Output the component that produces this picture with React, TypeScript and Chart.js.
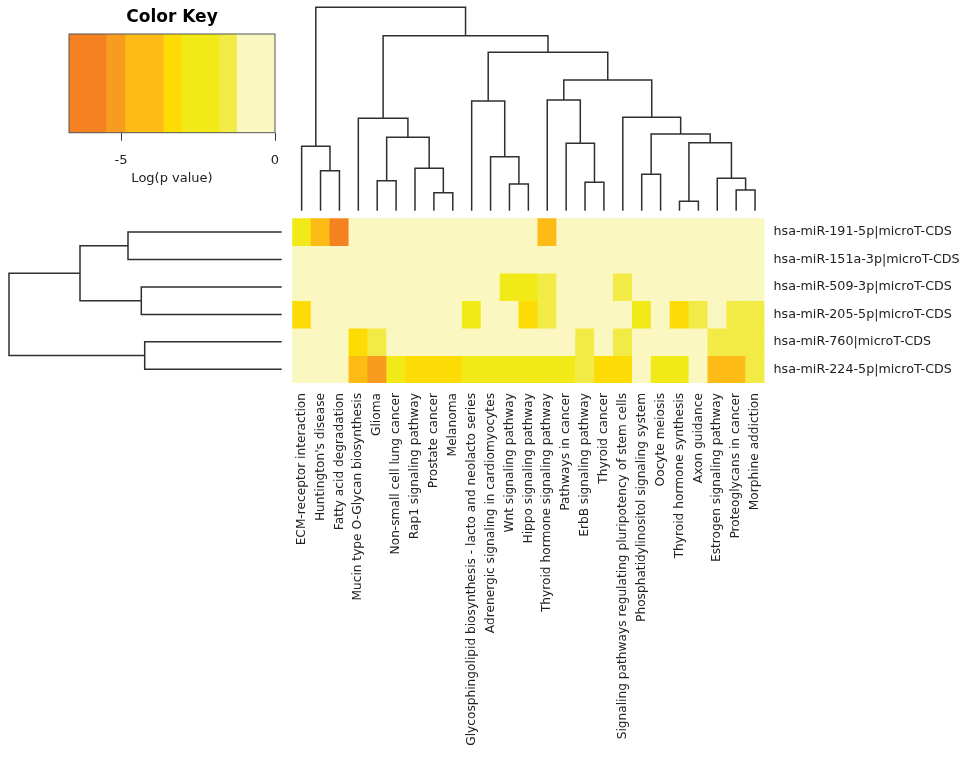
import React, { useEffect, useRef } from 'react';
import { Chart, registerables } from 'chart.js';

Chart.register(...registerables);
Chart.defaults.font.family = "'DejaVu Sans', sans-serif";

// ---------- data ----------
const colLabels = [
  'ECM-receptor interaction',
  "Huntington's disease",
  'Fatty acid degradation',
  'Mucin type O-Glycan biosynthesis',
  'Glioma',
  'Non-small cell lung cancer',
  'Rap1 signaling pathway',
  'Prostate cancer',
  'Melanoma',
  'Glycosphingolipid biosynthesis - lacto and neolacto series',
  'Adrenergic signaling in cardiomyocytes',
  'Wnt signaling pathway',
  'Hippo signaling pathway',
  'Thyroid hormone signaling pathway',
  'Pathways in cancer',
  'ErbB signaling pathway',
  'Thyroid cancer',
  'Signaling pathways regulating pluripotency of stem cells',
  'Phosphatidylinositol signaling system',
  'Oocyte meiosis',
  'Thyroid hormone synthesis',
  'Axon guidance',
  'Estrogen signaling pathway',
  'Proteoglycans in cancer',
  'Morphine addiction',
];

const rowLabels = [
  'hsa-miR-191-5p|microT-CDS',
  'hsa-miR-151a-3p|microT-CDS',
  'hsa-miR-509-3p|microT-CDS',
  'hsa-miR-205-5p|microT-CDS',
  'hsa-miR-760|microT-CDS',
  'hsa-miR-224-5p|microT-CDS',
];

// log(p value) per pathway, one array per miRNA
const miR191 = [-2.4, -4.2, -6.2, 0, 0, 0, 0, 0, 0, 0, 0, 0, 0, -4.2, 0, 0, 0, 0, 0, 0, 0, 0, 0, 0, 0];
const miR151a = [0, 0, 0, 0, 0, 0, 0, 0, 0, 0, 0, 0, 0, 0, 0, 0, 0, 0, 0, 0, 0, 0, 0, 0, 0];
const miR509 = [0, 0, 0, 0, 0, 0, 0, 0, 0, 0, 0, -2.4, -2.4, -1.5, 0, 0, 0, -1.5, 0, 0, 0, 0, 0, 0, 0];
const miR205 = [-3.3, 0, 0, 0, 0, 0, 0, 0, 0, -2.4, 0, 0, -3.3, -1.5, 0, 0, 0, 0, -2.4, 0, -3.3, -1.5, 0, -1.5, -1.5];
const miR760 = [0, 0, 0, -3.3, -1.5, 0, 0, 0, 0, 0, 0, 0, 0, 0, 0, -1.5, 0, -1.5, 0, 0, 0, 0, -1.5, -1.5, -1.5];
const miR224 = [0, 0, 0, -4.2, -5.2, -2.4, -3.3, -3.3, -3.3, -2.4, -2.4, -2.4, -2.4, -2.4, -2.4, -1.5, -3.3, -3.3, 0, -2.4, -2.4, 0, -4.2, -4.2, -1.5];

// colour key
const keyBreaks = [-6.69, -5.49, -4.87, -3.63, -3.05, -1.82, -1.25, 0];
const keyColors = ['#F58220', '#F89B1E', '#FDBB15', '#FDDC05', '#F2E918', '#F3EB45', '#FAF7C0'];
const keyTicks = [-5, 0];

// column dendrogram: [a, b, height]; negative = leaf (column n), positive = earlier merge n
const colMerges = [
  [-2, -3, 40.0],
  [-1, 1, 64.4],
  [-5, -6, 30.0],
  [-8, -9, 18.0],
  [-7, 4, 42.4],
  [3, 5, 73.4],
  [-4, 6, 92.4],
  [-12, -13, 26.7],
  [-11, 8, 54.0],
  [-10, 9, 109.7],
  [-16, -17, 28.4],
  [-15, 11, 67.4],
  [-14, 12, 110.7],
  [-19, -20, 36.4],
  [-21, -22, 9.4],
  [-24, -25, 20.7],
  [-23, 16, 32.4],
  [15, 17, 68.0],
  [14, 18, 76.7],
  [-18, 19, 93.4],
  [13, 20, 130.7],
  [10, 21, 158.4],
  [7, 22, 175.0],
  [2, 23, 203.4],
];
const colTreeMax = 203.4;

// row dendrogram
const rowMerges = [
  [-1, -2, 153.7],
  [-3, -4, 140.4],
  [1, 2, 201.7],
  [-5, -6, 137.0],
  [3, 4, 272.7],
];
const rowTreeMax = 272.7;

// ---------- helpers ----------
type Pt = { p: number; h: number };
function dendroSegments(merges: number[][]): Pt[][] {
  const pos: number[] = [];
  const hgt: number[] = [];
  const get = (id: number): Pt => (id < 0 ? { p: -id - 1, h: 0 } : { p: pos[id - 1], h: hgt[id - 1] });
  const segs: Pt[][] = [];
  merges.forEach(([a, b, h], i) => {
    const A = get(a);
    const B = get(b);
    pos[i] = (A.p + B.p) / 2;
    hgt[i] = h;
    segs.push([A, { p: A.p, h }, { p: B.p, h }, B]);
  });
  return segs;
}

function colorFor(v: number): string {
  for (let i = 0; i < keyColors.length; i++) {
    if (v >= keyBreaks[i] && v < keyBreaks[i + 1]) return keyColors[i];
  }
  return keyColors[keyColors.length - 1];
}

// layout (page pixels)
const W = 965;
const H = 757;
const HM = { left: 292.2, right: 764.5, top: 218.3, bottom: 383 };
const LINE = '#2f2f2f';

export default function App() {
  const keyRef = useRef<HTMLCanvasElement>(null);
  const topRef = useRef<HTMLCanvasElement>(null);
  const leftRef = useRef<HTMLCanvasElement>(null);
  const hmRef = useRef<HTMLCanvasElement>(null);

  useEffect(() => {
    const charts: Chart[] = [];

    // ----- colour key -----
    const frame = {
      id: 'frame',
      afterDatasetsDraw(chart: any) {
        const { ctx, chartArea: a } = chart;
        ctx.save();
        ctx.strokeStyle = '#555';
        ctx.lineWidth = 1;
        ctx.strokeRect(a.left, a.top, a.right - a.left, a.bottom - a.top);
        ctx.restore();
      },
    };
    charts.push(
      new Chart(keyRef.current!, {
        type: 'bar',
        data: {
          labels: ['key'],
          datasets: keyColors.map((c, i) => ({
            data: [[keyBreaks[i], keyBreaks[i + 1]]],
            backgroundColor: c,
            borderWidth: 0,
            grouped: false,
            barPercentage: 1,
            categoryPercentage: 1,
          })) as any,
        },
        options: {
          indexAxis: 'y',
          responsive: false,
          animation: false,
          events: [],
          layout: { padding: { left: 69, right: W - 275, top: 0, bottom: H - 132.7 - 57 } },
          plugins: {
            legend: { display: false },
            tooltip: { enabled: false },
            title: {
              display: true,
              text: 'Color Key',
              color: '#000',
              font: { size: 17, weight: 'bold' },
              padding: { top: 7.8, bottom: 5.8 },
            },
          },
          scales: {
            x: {
              type: 'linear',
              position: 'bottom',
              min: keyBreaks[0],
              max: 0,
              afterBuildTicks: (s: any) => {
                s.ticks = keyTicks.map((v) => ({ value: v }));
              },
              afterFit: (s: any) => {
                s.height = 57;
              },
              grid: { display: true, drawOnChartArea: false, drawTicks: true, tickLength: 8, color: '#333' },
              border: { display: false },
              ticks: { color: '#222', font: { size: 13 }, padding: 12.5 },
              title: { display: true, text: 'Log(p value)', color: '#222', font: { size: 13 }, padding: { top: 4, bottom: 3 } },
            },
            y: { type: 'category', display: false },
          },
        },
        plugins: [frame],
      } as any)
    );

    // ----- column dendrogram -----
    const colSegs = dendroSegments(colMerges);
    charts.push(
      new Chart(topRef.current!, {
        type: 'scatter',
        data: {
          datasets: colSegs.map((s) => ({
            data: s.map((pt) => ({ x: pt.p, y: pt.h })),
            showLine: true,
            borderColor: LINE,
            borderWidth: 1.5,
            pointRadius: 0,
            fill: false,
            clip: false,
          })),
        },
        options: {
          responsive: false,
          animation: false,
          events: [],
          layout: { padding: { left: HM.left, right: W - HM.right, top: 7.3, bottom: H - 210.7 } },
          plugins: { legend: { display: false }, tooltip: { enabled: false } },
          scales: {
            x: { type: 'linear', min: -0.5, max: colLabels.length - 0.5, display: false },
            y: { type: 'linear', min: 0, max: colTreeMax, display: false },
          },
        },
      } as any)
    );

    // ----- row dendrogram -----
    const rowSegs = dendroSegments(rowMerges);
    charts.push(
      new Chart(leftRef.current!, {
        type: 'scatter',
        data: {
          datasets: rowSegs.map((s) => ({
            data: s.map((pt) => ({ x: pt.h, y: pt.p })),
            showLine: true,
            borderColor: LINE,
            borderWidth: 1.5,
            pointRadius: 0,
            fill: false,
            clip: false,
          })),
        },
        options: {
          responsive: false,
          animation: false,
          events: [],
          layout: { padding: { left: 9, right: W - 281.7, top: HM.top, bottom: H - HM.bottom } },
          plugins: { legend: { display: false }, tooltip: { enabled: false } },
          scales: {
            x: { type: 'linear', min: 0, max: rowTreeMax, reverse: true, display: false },
            y: { type: 'linear', min: -0.5, max: rowLabels.length - 0.5, reverse: true, display: false },
          },
        },
      } as any)
    );

    // ----- heatmap -----
    const rows = [miR191, miR151a, miR509, miR205, miR760, miR224];
    charts.push(
      new Chart(hmRef.current!, {
        type: 'bar',
        data: {
          labels: colLabels,
          datasets: rows.map((vals, r) => ({
            label: rowLabels[r],
            data: vals.map(() => [r - 0.5, r + 0.5]),
            backgroundColor: vals.map(colorFor),
            borderWidth: 0,
            grouped: false,
            barPercentage: 1,
            categoryPercentage: 1,
          })) as any,
        },
        options: {
          responsive: false,
          animation: false,
          events: [],
          layout: { padding: { left: HM.left, right: 0, top: HM.top, bottom: 0 } },
          plugins: { legend: { display: false }, tooltip: { enabled: false } },
          scales: {
            x: {
              type: 'category',
              position: 'bottom',
              grid: { display: false, drawTicks: false },
              border: { display: false },
              ticks: {
                autoSkip: false,
                minRotation: 90,
                maxRotation: 90,
                color: '#222',
                font: { size: 12.2 },
                padding: 10,
              },
              afterFit: (s: any) => {
                s.height = H - HM.bottom;
              },
            },
            y: {
              type: 'linear',
              position: 'right',
              min: -0.5,
              max: rowLabels.length - 0.5,
              reverse: true,
              grid: { display: false, drawTicks: false },
              border: { display: false },
              afterBuildTicks: (s: any) => {
                s.ticks = rowLabels.map((_, i) => ({ value: i }));
              },
              ticks: {
                color: '#222',
                font: { size: 12.7 },
                padding: 9,
                callback: (v: any) => rowLabels[v as number] ?? '',
              },
              afterFit: (s: any) => {
                s.width = W - HM.right;
              },
            },
          },
        },
      } as any)
    );

    return () => charts.forEach((c) => c.destroy());
  }, []);

  const cv: React.CSSProperties = { position: 'absolute', left: 0, top: 0 };
  return (
    <div style={{ position: 'absolute', left: 0, top: 0, width: W, height: H, background: '#fff' }}>
      <canvas ref={keyRef} width={W} height={H} style={cv} />
      <canvas ref={topRef} width={W} height={H} style={cv} />
      <canvas ref={leftRef} width={W} height={H} style={cv} />
      <canvas ref={hmRef} width={W} height={H} style={cv} />
    </div>
  );
}
